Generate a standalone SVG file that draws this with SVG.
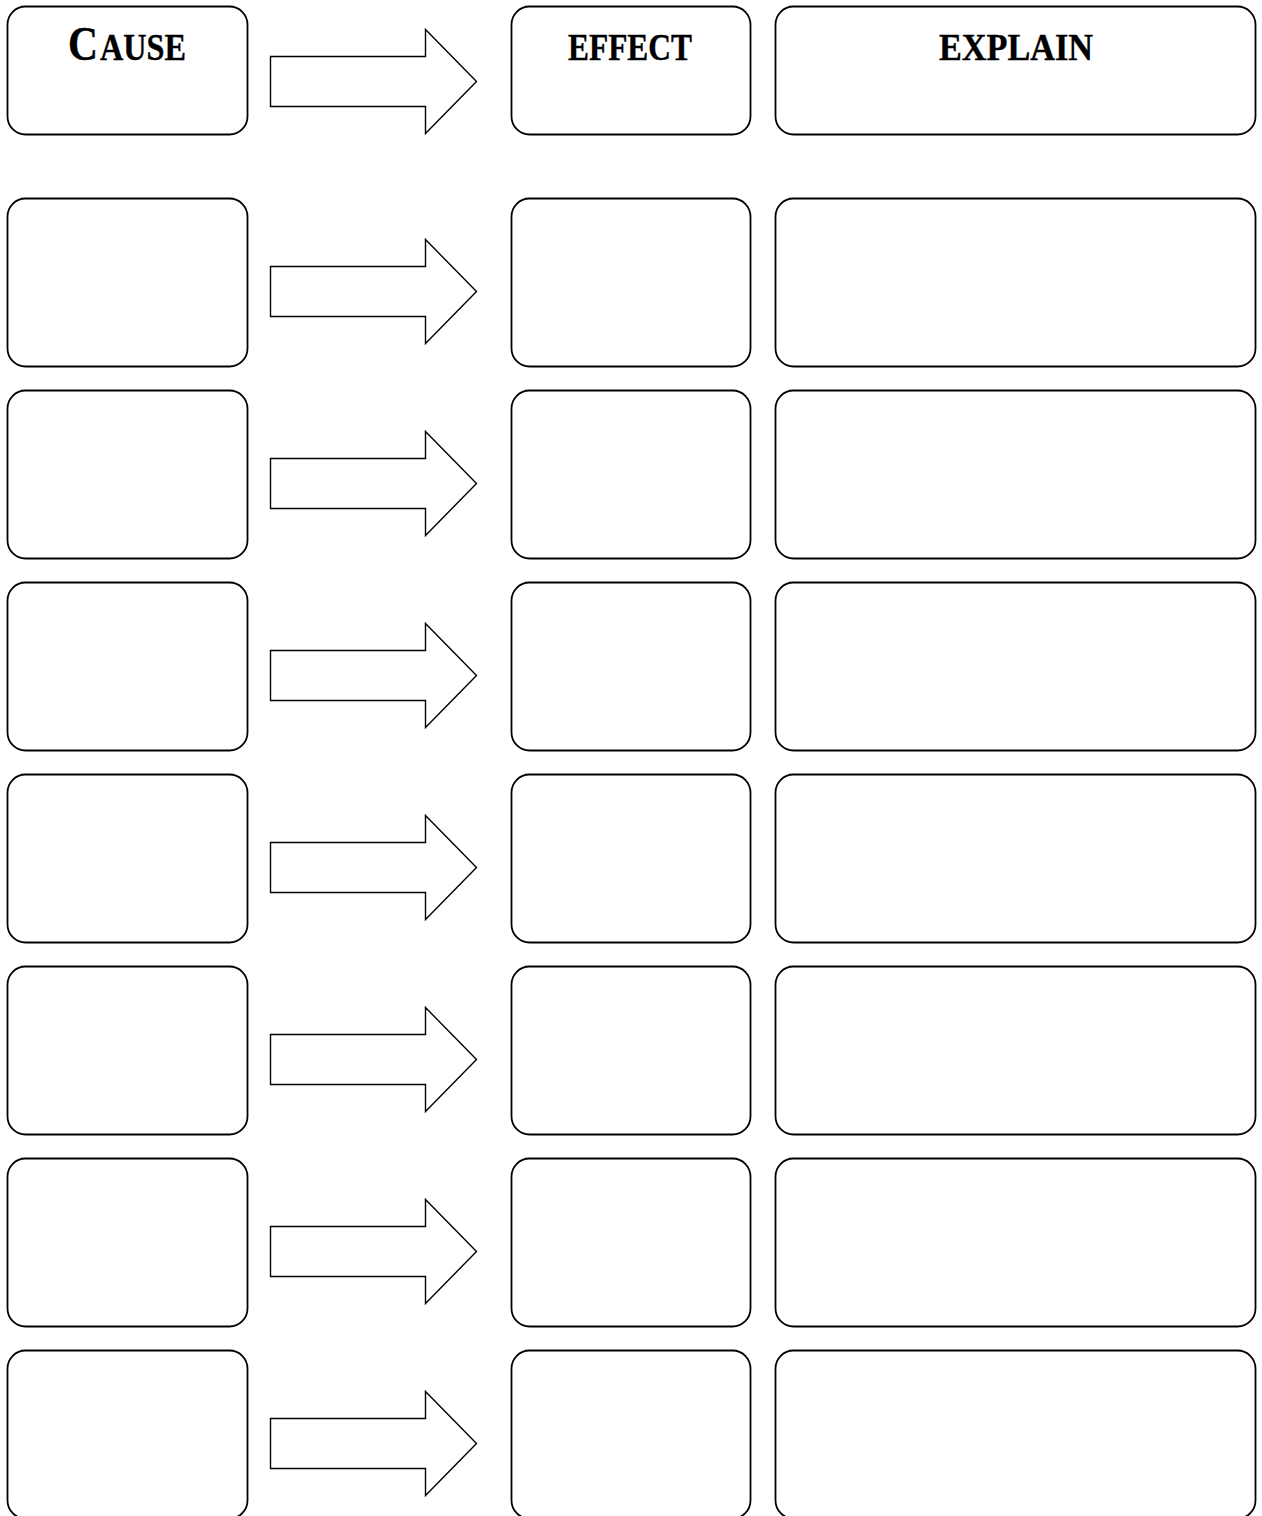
<svg xmlns="http://www.w3.org/2000/svg" width="1262" height="1516" viewBox="0 0 1262 1516">
<style>
.box{fill:#fff;stroke:#000;stroke-width:1.8}
.arr{fill:#fff;stroke:#000;stroke-width:1.4;stroke-linejoin:miter}
.hd{font-family:"Liberation Serif","Times New Roman",serif;font-weight:bold;fill:#000;stroke:#000;stroke-width:0.4}
</style>
<defs>
<path id="arrow" class="arr" d="M270.5,-25 H425.5 V-52 L476.5,0 L425.5,52 V25 H270.5 Z"/>
</defs>
<rect width="1262" height="1516" fill="#fff"/>
<g id="header">
<g id="cause-h"><rect class="box" x="7.5" y="6.5" width="240" height="128" rx="18"/>
<text class="hd" x="68" y="60" font-size="48" textLength="30" lengthAdjust="spacingAndGlyphs">C</text>
<text class="hd" x="100" y="60" font-size="38" textLength="86" lengthAdjust="spacingAndGlyphs">AUSE</text></g>
<g id="effect-h"><rect class="box" x="511.5" y="6.5" width="239" height="128" rx="18"/>
<text class="hd" x="630" y="60" font-size="38" text-anchor="middle" textLength="124" lengthAdjust="spacingAndGlyphs">EFFECT</text></g>
<g id="explain-h"><rect class="box" x="775.5" y="6.5" width="480" height="128" rx="18"/>
<text class="hd" x="1016" y="60" font-size="38" text-anchor="middle" textLength="154" lengthAdjust="spacingAndGlyphs">EXPLAIN</text></g>
</g>
<g id="rows">
<g id="row1"><rect class="box" x="7.5" y="198.5" width="240" height="168" rx="18"/><rect class="box" x="511.5" y="198.5" width="239" height="168" rx="18"/><rect class="box" x="775.5" y="198.5" width="480" height="168" rx="18"/></g>
<g id="row2"><rect class="box" x="7.5" y="390.5" width="240" height="168" rx="18"/><rect class="box" x="511.5" y="390.5" width="239" height="168" rx="18"/><rect class="box" x="775.5" y="390.5" width="480" height="168" rx="18"/></g>
<g id="row3"><rect class="box" x="7.5" y="582.5" width="240" height="168" rx="18"/><rect class="box" x="511.5" y="582.5" width="239" height="168" rx="18"/><rect class="box" x="775.5" y="582.5" width="480" height="168" rx="18"/></g>
<g id="row4"><rect class="box" x="7.5" y="774.5" width="240" height="168" rx="18"/><rect class="box" x="511.5" y="774.5" width="239" height="168" rx="18"/><rect class="box" x="775.5" y="774.5" width="480" height="168" rx="18"/></g>
<g id="row5"><rect class="box" x="7.5" y="966.5" width="240" height="168" rx="18"/><rect class="box" x="511.5" y="966.5" width="239" height="168" rx="18"/><rect class="box" x="775.5" y="966.5" width="480" height="168" rx="18"/></g>
<g id="row6"><rect class="box" x="7.5" y="1158.5" width="240" height="168" rx="18"/><rect class="box" x="511.5" y="1158.5" width="239" height="168" rx="18"/><rect class="box" x="775.5" y="1158.5" width="480" height="168" rx="18"/></g>
<g id="row7"><rect class="box" x="7.5" y="1350.5" width="240" height="168" rx="18"/><rect class="box" x="511.5" y="1350.5" width="239" height="168" rx="18"/><rect class="box" x="775.5" y="1350.5" width="480" height="168" rx="18"/></g>
</g>
<g id="connectors">
<use href="#arrow" y="81.5"/>
<use href="#arrow" y="291.5"/>
<use href="#arrow" y="483.5"/>
<use href="#arrow" y="675.5"/>
<use href="#arrow" y="867.5"/>
<use href="#arrow" y="1059.5"/>
<use href="#arrow" y="1251.5"/>
<use href="#arrow" y="1443.5"/>
</g>
</svg>
